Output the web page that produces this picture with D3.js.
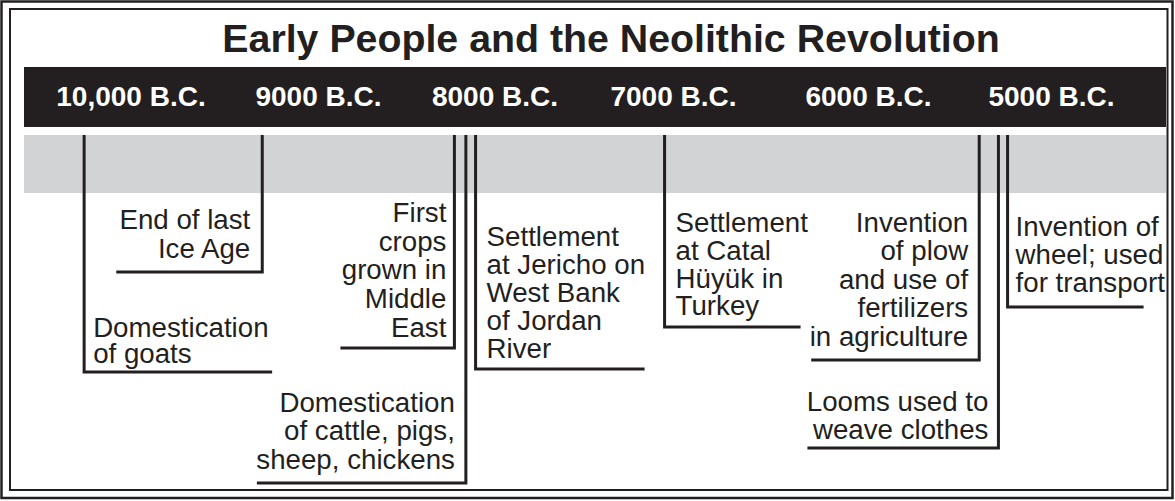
<!DOCTYPE html>
<html>
<head>
<meta charset="utf-8">
<script src="https://cdn.jsdelivr.net/npm/d3@7"></script>
<style>
  html, body { margin: 0; padding: 0; background: #fff; }
  svg { display: block; }
  text { font-family: "Liberation Sans", Arial, Helvetica, sans-serif; }
</style>
</head>
<body>
<svg id="chart" width="1175" height="501"></svg>
<script>
// ---- data ----
const title = "Early People and the Neolithic Revolution";
const tickYears = [10000, 9000, 8000, 7000, 6000, 5000];
const tickLabels = ["10,000 B.C.", "9000 B.C.", "8000 B.C.", "7000 B.C.", "6000 B.C.", "5000 B.C."];
const eventYears = [10250, 9300, 8230, 8165, 8110, 7050, 5395, 5290, 5240];
const eventLabels = [
  ["Domestication", "of goats"],
  ["End of last", "Ice Age"],
  ["First", "crops", "grown in", "Middle", "East"],
  ["Domestication", "of cattle, pigs,", "sheep, chickens"],
  ["Settlement", "at Jericho on", "West Bank", "of Jordan", "River"],
  ["Settlement", "at Catal", "Hüyük in", "Turkey"],
  ["Invention", "of plow", "and use of", "fertilizers", "in agriculture"],
  ["Looms used to", "weave clothes"],
  ["Invention of", "wheel; used", "for transport"]
];
const eventSides = ["right", "left", "left", "left", "right", "right", "left", "left", "right"];

// ---- layout (positions / styles only) ----
const eventLayout = [
  {first: 337, gap: 25.5, bottom: 372, rule: 188, pad: 9},
  {first: 229, gap: 29,   bottom: 272, rule: 146, pad: 12},
  {first: 222, gap: 28.7, bottom: 348, rule: 114, pad: 8},
  {first: 412, gap: 28.3, bottom: 483, rule: 209, pad: 11},
  {first: 246, gap: 28,   bottom: 369, rule: 169, pad: 11},
  {first: 232, gap: 27.8, bottom: 327, rule: 136, pad: 11},
  {first: 232, gap: 28.4, bottom: 360, rule: 168, pad: 11},
  {first: 411, gap: 27.5, bottom: 448, rule: 191, pad: 10},
  {first: 236, gap: 27.8, bottom: 307, rule: 136, pad: 8}
];
const INK = "#231f20";
const GRAY = "#d1d3d4";
const bar = {x0: 24, x1: 1166, top: 67, bottom: 127};
const band = {top: 135, bottom: 193};

const svg = d3.select("#chart");

// frame
svg.append("rect").attr("x", 1.5).attr("y", 1.5).attr("width", 1171).attr("height", 496.5)
  .attr("fill", "none").attr("stroke", INK).attr("stroke-width", 2.5);
svg.append("rect").attr("x", 10).attr("y", 9).attr("width", 1157.5).attr("height", 481)
  .attr("fill", "none").attr("stroke", INK).attr("stroke-width", 2);

// title
svg.append("text").attr("x", 611).attr("y", 52).attr("text-anchor", "middle")
  .attr("font-size", 39.3).attr("font-weight", "bold").attr("fill", INK).text(title);

// scale
const x = d3.scaleLinear().domain(tickYears).range([131, 318.5, 495, 673.5, 868.5, 1051.5]);

// black bar + tick labels
svg.append("rect").attr("x", bar.x0).attr("y", bar.top)
  .attr("width", bar.x1 - bar.x0).attr("height", bar.bottom - bar.top).attr("fill", INK);
svg.append("g").selectAll("text").data(tickYears).join("text")
  .attr("x", d => x(d)).attr("y", 106).attr("text-anchor", "middle")
  .attr("font-size", 28).attr("font-weight", "bold").attr("fill", "#fff")
  .text((d, i) => tickLabels[i]);

// gray band
svg.append("rect").attr("x", bar.x0).attr("y", band.top)
  .attr("width", bar.x1 - bar.x0).attr("height", band.bottom - band.top).attr("fill", GRAY);

// events
const events = eventYears.map((yr, i) => ({year: yr, lines: eventLabels[i], side: eventSides[i], ...eventLayout[i]}));
const g = svg.append("g").selectAll("g").data(events).join("g");
g.append("path")
  .attr("d", d => {
    const cx = x(d.year);
    const ex = d.side === "right" ? cx + d.rule : cx - d.rule;
    return `M${cx},${band.top}V${d.bottom}H${ex}`;
  })
  .attr("fill", "none").attr("stroke", INK).attr("stroke-width", 3)
  .attr("stroke-linejoin", "miter");
g.each(function(d) {
  const cx = x(d.year);
  const tx = d.side === "right" ? cx + d.pad : cx - d.pad;
  d3.select(this).append("text")
    .attr("text-anchor", d.side === "right" ? "start" : "end")
    .attr("font-size", 27.7).attr("fill", INK)
    .selectAll("tspan").data(d.lines).join("tspan")
    .attr("x", tx).attr("y", (l, j) => d.first + j * d.gap).text(l => l);
});
</script>
</body>
</html>
